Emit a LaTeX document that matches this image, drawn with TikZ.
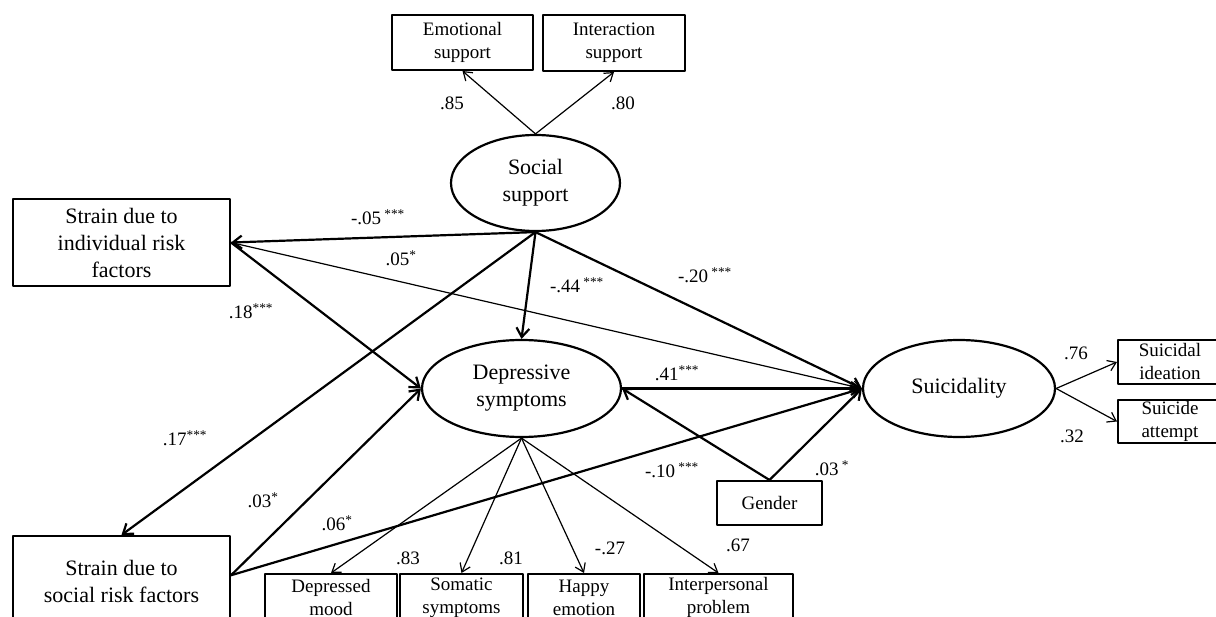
\documentclass[tikz,border=0pt]{standalone}
\usepackage{fontspec}
\setmainfont{Liberation Serif}
\usetikzlibrary{arrows.meta,shapes.geometric}
\begin{document}
\begin{tikzpicture}[x=1pt,y=-1pt, line join=round,
  latent/.style={draw,ellipse,line width=2.2pt,inner sep=0pt,align=center,font=\fontsize{22}{27}\selectfont},
  bigbox/.style={draw,rectangle,line width=2pt,inner sep=0pt,align=center,font=\fontsize{22}{27}\selectfont},
  smallbox/.style={draw,rectangle,line width=2pt,inner sep=0pt,align=center,font=\fontsize{19}{23}\selectfont},
  thk/.style={-{Straight Barb[length=9pt,width=13pt]},line width=2.2pt},
  thn/.style={-{Straight Barb[length=8pt,width=11pt]},line width=1.2pt},
  coef/.style={inner sep=0pt,font=\fontsize{19}{23}\selectfont}]
\useasboundingbox (0,0) rectangle (1216,617);
\clip (0,0) rectangle (1216,617);
% latent variables
\node[latent,minimum width=169pt,minimum height=96pt] (soc) at (535.5,183) {Social\\support};
\node[latent,minimum width=199pt,minimum height=97pt] (dep) at (521.5,388.5) {Depressive\\symptoms};
\node[latent,minimum width=192pt,minimum height=97pt] (sui) at (959,388.5) {Suicidality};
% observed
\node[smallbox,minimum width=141pt,minimum height=55pt] (emo) at (462.5,42.5) {Emotional\\support};
\node[smallbox,minimum width=142pt,minimum height=56pt] (inter) at (614,43) {Interaction\\support};
\node[bigbox,minimum width=217pt,minimum height=87pt] (strI) at (121.5,242.5) {Strain due to\\individual risk\\factors};
\node[bigbox,minimum width=217pt,minimum height=90pt] (strS) at (121.5,581) {Strain due to\\social risk factors};
\node[smallbox,minimum width=132pt,minimum height=47pt] (mood) at (331,597.5) {Depressed\\mood};
\node[smallbox,minimum width=123pt,minimum height=47pt] (soma) at (461.5,597.5) {Somatic\\symptoms};
\node[smallbox,minimum width=112pt,minimum height=47pt] (happy) at (584,597.5) {Happy\\emotion};
\node[smallbox,minimum width=149pt,minimum height=47pt] (prob) at (718.5,597.5) {Interpersonal\\problem};
\node[smallbox,minimum width=105pt,minimum height=44pt] (gen) at (769.5,503) {Gender};
\node[smallbox,minimum width=104pt,minimum height=44pt] (idea) at (1170,362) {Suicidal\\ideation};
\node[smallbox,minimum width=104pt,minimum height=43pt] (att) at (1170,421.5) {Suicide\\attempt};
% paths
\draw[thn] (soc.north) -- (emo.south);
\draw[thn] (soc.north) -- (inter.south);
\draw[thk] (soc.south) -- (strI.east);
\draw[thk] (soc.south) -- (strS.north);
\draw[thk] (soc.south) -- (dep.north);
\draw[thk] (soc.south) -- (sui.west);
\draw[thk] (strI.east) -- (dep.west);
\draw[thn] (strI.east) -- (sui.west);
\draw[thk] (strS.3) -- (dep.west);
\draw[thk] (strS.3) -- (sui.west);
\draw[thk] (dep.east) -- (sui.west);
\draw[thk] (gen.north) -- (dep.east);
\draw[thk] (gen.north) -- (sui.west);
\foreach \b in {mood,soma,happy,prob} \draw[thn] (dep.south) -- (\b.north);
\draw[thn] (sui.east) -- (idea.west);
\draw[thn] (sui.east) -- (att.west);
% coefficients
\node[coef] (c1) at (452,103) {.85};
\node[coef] (c2) at (623,103) {.80};
\node[coef] (c3) at (378,217) {-.05\,\textsuperscript{***}};
\node[coef] (c4) at (401,258) {.05\textsuperscript{*}};
\node[coef] (c5) at (577,285) {-.44\,\textsuperscript{***}};
\node[coef] (c6) at (705,275) {-.20\,\textsuperscript{***}};
\node[coef] (c7) at (251,311) {.18\textsuperscript{***}};
\node[coef] (c8) at (185,438) {.17\textsuperscript{***}};
\node[coef] (c9) at (263,500) {.03\textsuperscript{*}};
\node[coef] (c10) at (337,523) {.06\textsuperscript{*}};
\node[coef] (c11) at (677,373) {.41\textsuperscript{***}};
\node[coef] (c12) at (672,470) {-.10\,\textsuperscript{***}};
\node[coef] (c13) at (832,468) {.03\,\textsuperscript{*}};
\node[coef] (c14) at (408,558) {.83};
\node[coef] (c15) at (511,558) {.81};
\node[coef] (c16) at (610,548) {-.27};
\node[coef] (c17) at (738,545) {.67};
\node[coef] (c18) at (1076,353) {.76};
\node[coef] (c19) at (1072,436) {.32};
\end{tikzpicture}
\end{document}
